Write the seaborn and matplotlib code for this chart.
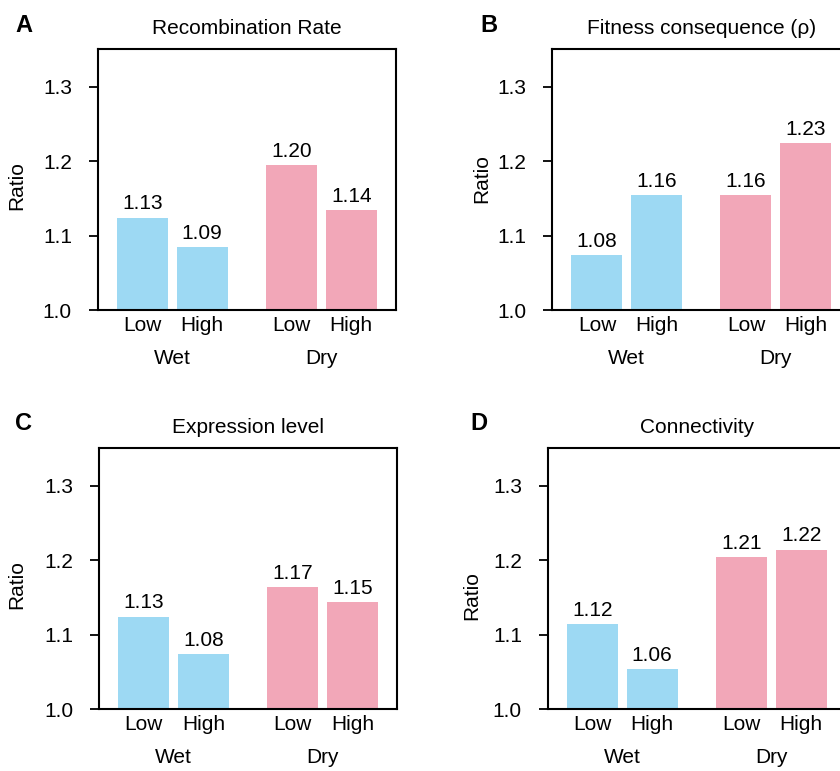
import matplotlib.pyplot as plt
import matplotlib.transforms as mtransforms
import pandas as pd
import seaborn as sns

# data
conditions = ['Wet', 'Wet', 'Dry', 'Dry']
levels = ['Low', 'High', 'Low', 'High']
letters = ['A', 'B', 'C', 'D']
titles = ['Recombination Rate', 'Fitness consequence (\u03c1)', 'Expression level', 'Connectivity']

recomb = [1.124, 1.084, 1.195, 1.134]
fitness = [1.074, 1.154, 1.154, 1.224]
expression = [1.124, 1.074, 1.164, 1.144]
connectivity = [1.114, 1.054, 1.204, 1.214]

recomb_lab = ['1.13', '1.09', '1.20', '1.14']
fitness_lab = ['1.08', '1.16', '1.16', '1.23']
expression_lab = ['1.13', '1.08', '1.17', '1.15']
connectivity_lab = ['1.12', '1.06', '1.21', '1.22']

all_vals = [recomb, fitness, expression, connectivity]
all_labs = [recomb_lab, fitness_lab, expression_lab, connectivity_lab]

cond_order = ['Wet', 'Dry']
level_order = ['Low', 'High']
cond_colors = {'Wet': '#9dd9f3', 'Dry': '#f2a7b8'}

sns.set_style('ticks')
plt.rcParams['font.family'] = ['Liberation Sans', 'DejaVu Sans']
plt.rcParams['axes.linewidth'] = 1.5
for key in ['text.color', 'axes.labelcolor', 'xtick.color', 'ytick.color', 'axes.edgecolor']:
    plt.rcParams[key] = 'black'

fig = plt.figure(figsize=(8.4, 7.71), dpi=100)

# panel layout (figure fractions) + ylabel positions
boxes = [[0.1163, 0.5979, 0.3548, 0.3381],
         [0.6575, 0.5979, 0.3548, 0.3381],
         [0.1179, 0.0804, 0.3548, 0.3381],
         [0.6520, 0.0804, 0.3548, 0.3381]]
ylab_pos = [(-0.239, 0.476), (-0.205, 0.503), (-0.243, 0.479), (-0.223, 0.434)]
letter_pos = [(0.018, 0.967), (0.572, 0.967), (0.018, 0.451), (0.560, 0.451)]
fs = 15

for k in range(4):
    ax = fig.add_axes(boxes[k])
    df = pd.DataFrame({'condition': conditions, 'level': levels, 'ratio': all_vals[k]})
    sns.barplot(data=df, x='condition', y='ratio', hue='level', order=cond_order,
                hue_order=level_order, width=0.805, gap=0.15, errorbar=None,
                saturation=1, legend=False, ax=ax)

    lab_lookup = {(c, l): s for c, l, s in zip(conditions, levels, all_labs[k])}
    for p in ax.patches:
        xc = p.get_x() + p.get_width() / 2
        ci = int(round(xc))
        cond = cond_order[ci]
        lev = 'Low' if xc < ci else 'High'
        p.set_facecolor(cond_colors[cond])
        p.set_edgecolor('none')
        ax.annotate(lab_lookup[(cond, lev)], (xc, p.get_height()), xytext=(0, 3),
                    textcoords='offset points', ha='center', va='bottom', fontsize=fs)

    ax.set_ylim(1.0, 1.35)
    ax.set_xlim(-0.5, 1.5)
    ax.set_yticks([1.0, 1.1, 1.2, 1.3])
    ax.set_yticklabels(['1.0', '1.1', '1.2', '1.3'])
    ax.tick_params(axis='y', labelsize=fs, length=6.5, width=1.3, pad=12)
    ax.set_xticks([-0.2, 0.2, 0.8, 1.2])
    ax.set_xticklabels(['Low', 'High', 'Low', 'High'])
    ax.tick_params(axis='x', labelsize=fs, length=0, pad=4)
    ax.set_xlabel('')
    ax.set_ylabel('Ratio', fontsize=fs)
    ax.yaxis.set_label_coords(*ylab_pos[k])
    for s in ax.spines.values():
        s.set_visible(True)
        s.set_linewidth(1.5)

    trans = mtransforms.blended_transform_factory(ax.transData, ax.transAxes)
    for i, c in enumerate(cond_order):
        ax.text(i, -0.186, c, transform=trans, ha='center', va='center', fontsize=fs)

    ax.set_title(titles[k], fontsize=15, pad=11)
    fig.text(letter_pos[k][0], letter_pos[k][1], letters[k], fontsize=17,
             fontweight='bold', ha='left', va='center')

fig.savefig('out.png', dpi=100)
